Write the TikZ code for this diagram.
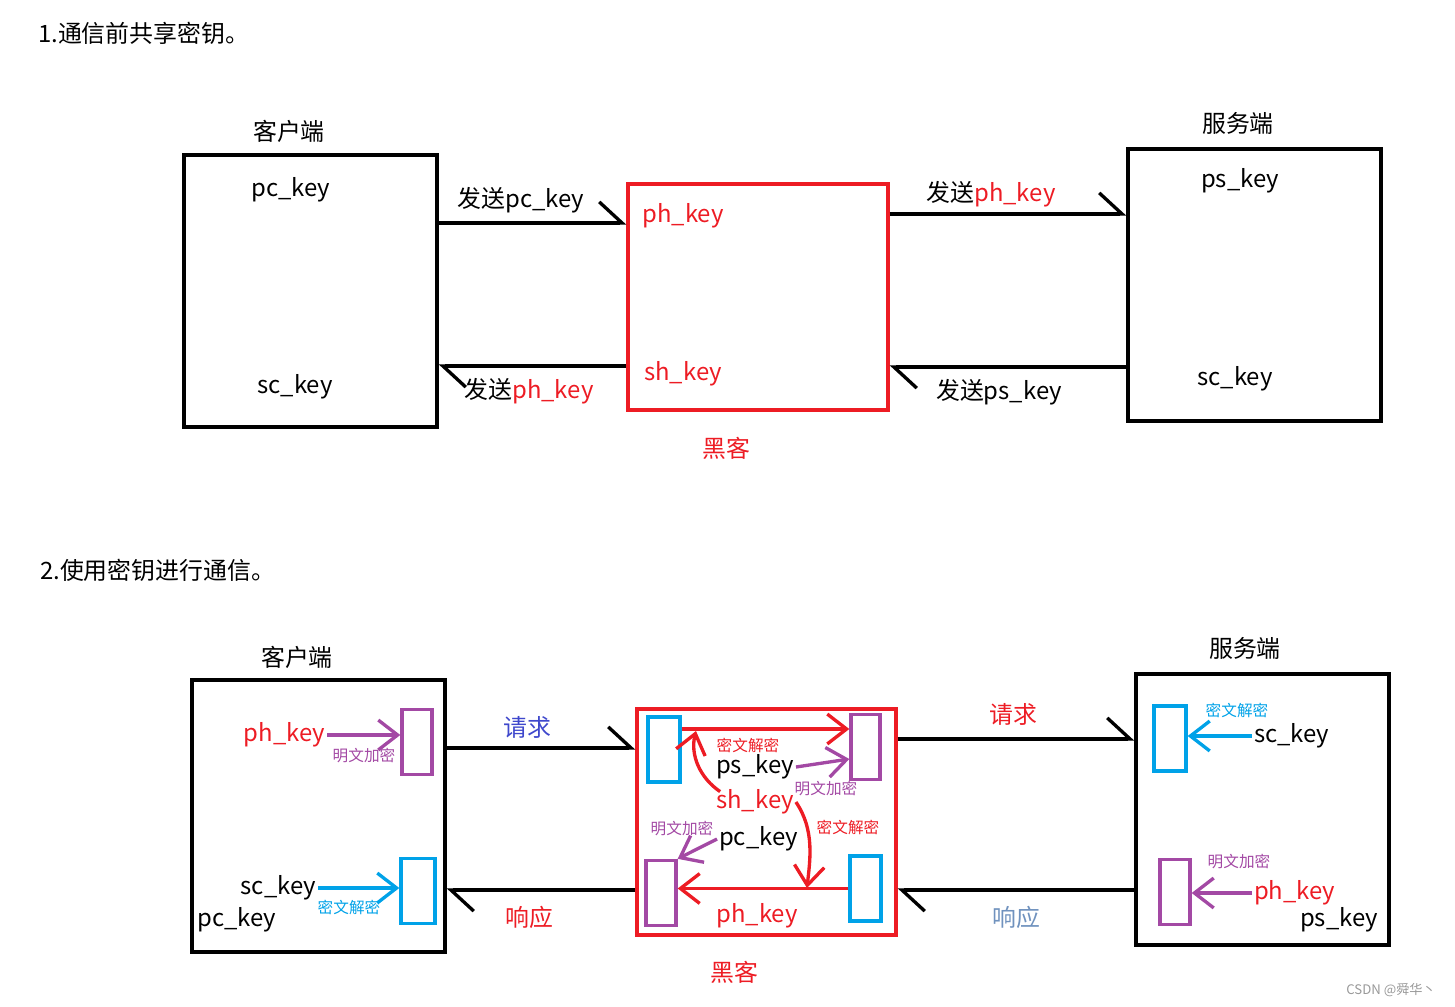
\documentclass[tikz,border=0pt]{standalone}
\usepackage{fontspec}
\setmainfont{Noto Sans CJK SC}
\usepackage{tikz}
\usetikzlibrary{arrows.meta, positioning, calc}
\definecolor{pred}{HTML}{ED1C24}
\definecolor{ppur}{HTML}{A349A4}
\definecolor{pblu}{HTML}{00A2E8}
\definecolor{pind}{HTML}{3F48CC}
\definecolor{pstl}{HTML}{7092BE}
\begin{document}
\begin{tikzpicture}[x=0.02cm, y=-0.02cm]
\tikzset{
  big/.style={font=\fontsize{13.6}{16}\selectfont, inner sep=1pt},
  small/.style={font=\fontsize{8.9}{10}\selectfont, inner sep=0pt},
  box/.style={draw, line width=1.9pt, inner sep=0pt},
  hbox/.style={box, draw=pred},
  encbox/.style={draw=ppur, line width=1.9pt, inner sep=0pt, minimum width=0.6cm, minimum height=1.3cm},
  decbox/.style={draw=pblu, line width=1.9pt, inner sep=0pt, minimum width=0.64cm, minimum height=1.3cm},
  msg/.style={line width=1.9pt, -{Straight Barb[harpoon, length=13pt, width=24pt]}},
  vhead/.style={line width=1.9pt, -{Straight Barb[length=11pt, width=17pt]}},
  encline/.style={vhead, draw=ppur},
  decline/.style={vhead, draw=pblu},
  hackline/.style={vhead, draw=pred},
}
\useasboundingbox (0,0) rectangle (1455,1007);

% 1.
\node[big, anchor=west] (T1) at (36,33) {1.通信前共享密钥。};

\node[box, minimum width=5.06cm, minimum height=5.44cm] (Cl1) at (310.5,291) {};
\node[hbox, minimum width=5.20cm, minimum height=4.52cm] (Hk1) at (758,297) {};
\node[box, minimum width=5.06cm, minimum height=5.44cm] (Sv1) at (1254.5,285) {};

\node[big] (Cl1name) at (289,131) {客户端};
\node[big] (Sv1name) at (1238,123) {服务端};
\node[big, pred] (Hk1name) at (726,448) {黑客};

\node[big] (Cl1pc) at (291,190) {pc\_key};
\node[big] (Cl1sc) at (295,387) {sc\_key};
\node[big, pred] (Hk1ph) at (683,216) {ph\_key};
\node[big, pred] (Hk1sh) at (683,374) {sh\_key};
\node[big] (Sv1ps) at (1240,181) {ps\_key};
\node[big] (Sv1sc) at (1235,379) {sc\_key};

\draw[msg] (Cl1.east |- 0,223) -- (Hk1.west |- 0,223);
\draw[msg] (Hk1.west |- 0,366) -- (Cl1.east |- 0,366);
\draw[msg] (Hk1.east |- 0,214) -- (Sv1.west |- 0,214);
\draw[msg] (Sv1.west |- 0,367) -- (Hk1.east |- 0,367);

\node[big] (L1) at (521,200) {发送pc\_key};
\node[big] (L2) at (529,391) {发送\textcolor{pred}{ph\_key}};
\node[big] (L3) at (991,194) {发送\textcolor{pred}{ph\_key}};
\node[big] (L4) at (999,392) {发送ps\_key};

% 2.
\node[big, anchor=west] (T2) at (38,570) {2.使用密钥进行通信。};

\node[box, minimum width=5.06cm, minimum height=5.44cm] (Cl2) at (318.5,816) {};
\node[hbox, minimum width=5.18cm, minimum height=4.52cm] (Hk2) at (766.5,822) {};
\node[box, minimum width=5.06cm, minimum height=5.42cm] (Sv2) at (1262.5,809.5) {};

\node[big] (Cl2name) at (297,657) {客户端};
\node[big] (Sv2name) at (1245,648) {服务端};
\node[big, pred] (Hk2name) at (734,972) {黑客};

% client
\node[encbox] (CEnc) at (417,742) {};
\node[decbox, minimum width=0.68cm] (CDec) at (418,891) {};
\node[big, pred, anchor=east] (Cph) at (327,735) {ph\_key};
\node[big, anchor=east] (Csc) at (318,888) {sc\_key};
\node[big] (Cpc) at (237,920) {pc\_key};
\node[small, ppur] (CEncT) at (364,756) {明文加密};
\node[small, pblu] (CDecT) at (349,907) {密文解密};
\draw[encline] (Cph.east) -- (Cph.east -| CEnc.west);
\draw[decline] (Csc.east) -- (Csc.east -| CDec.west);

% hacker
\node[decbox] (HDecA) at (664,749.5) {};
\node[encbox, minimum width=0.58cm] (HEncA) at (865.5,747) {};
\node[encbox] (HEncB) at (661,893) {};
\node[decbox, minimum width=0.62cm] (HDecB) at (865.5,888.5) {};
\node[big, anchor=east] (Hps) at (796,767) {ps\_key};
\node[big, pred] (Hsh) at (755,802) {sh\_key};
\node[big, anchor=west] (Hpc) at (717,839) {pc\_key};
\node[big, pred] (Hph) at (757,916) {ph\_key};
\node[small, pred] (HDecAT) at (748,745) {密文解密};
\node[small, ppur] (HEncAT) at (826,789) {明文加密};
\node[small, pred] (HDecBT) at (848,827) {密文解密};
\node[small, ppur] (HEncBT) at (682,829) {明文加密};
\coordinate (TopHit) at (696,731);
\coordinate (BotHit) at (807,888);
\draw[hackline] (HDecA.east |- 0,729) -- (HEncA.west |- 0,729);
\draw[hackline] (HDecB.west) -- (HEncB.east |- HDecB.west);
\draw[encline] (Hps.east) -- (HEncA.west |- 0,759);
\draw[encline] (Hpc.west) -- (HEncB.north east);
\draw[hackline] ([shift={(6,4)}]Hsh.north west) .. controls (700,778) and (690,755) .. (TopHit);
\draw[hackline] (Hsh.east) .. controls (815,830) and (810,860) .. (BotHit);

% server
\node[decbox] (SDec) at (1170,738.5) {};
\node[encbox] (SEnc) at (1175,892) {};
\node[big, anchor=west] (Ssc) at (1252,736) {sc\_key};
\node[big, pred, anchor=west] (Sph) at (1252,893) {ph\_key};
\node[big] (Sps) at (1339,920) {ps\_key};
\node[small, pblu] (SDecT) at (1237,711) {密文解密};
\node[small, ppur] (SEncT) at (1239,862) {明文加密};
\draw[decline] (Ssc.west) -- (Ssc.west -| SDec.east);
\draw[encline] (Sph.west) -- (Sph.west -| SEnc.east);

% links
\draw[msg] (Cl2.east |- 0,748) -- (Hk2.west |- 0,748);
\draw[msg] (Hk2.east |- 0,739) -- (Sv2.west |- 0,739);
\draw[msg] (Hk2.west |- 0,890) -- (Cl2.east |- 0,890);
\draw[msg] (Sv2.west |- 0,890) -- (Hk2.east |- 0,890);

\node[big, pind] (Req1) at (527,727) {请求};
\node[big, pred] (Req2) at (1013,714) {请求};
\node[big, pred] (Rsp1) at (529,917) {响应};
\node[big, pstl] (Rsp2) at (1016,917) {响应};

\node[font=\fontsize{7.5}{9}\selectfont, text=gray!80, anchor=east] (Mark) at (1442,990) {CSDN @舜华丶};
\end{tikzpicture}
\end{document}
